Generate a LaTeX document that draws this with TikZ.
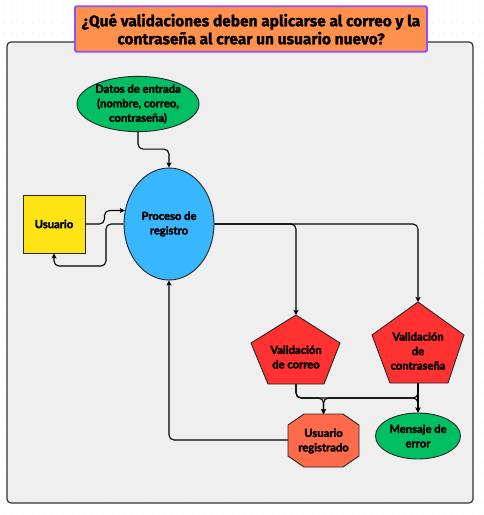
\documentclass[tikz,border=0pt]{standalone}
\usepackage{fontspec}
\setmainfont{Lato}[BoldFeatures={FakeBold=2.6}]
\newfontfamily\titlefont{Fira Sans}[BoldFeatures={FakeBold=1.2}]
\usetikzlibrary{shapes.geometric,arrows.meta}
\definecolor{panelgray}{HTML}{EFEFEF}
\definecolor{titleorange}{HTML}{FF914D}
\definecolor{titlepurple}{HTML}{8C52FF}
\definecolor{nodegreen}{HTML}{00BF63}
\definecolor{nodeblue}{HTML}{38B6FF}
\definecolor{nodeyellow}{HTML}{FFE415}
\definecolor{nodered}{HTML}{FF3131}
\definecolor{nodecoral}{HTML}{FF6B4A}
\definecolor{gridc}{HTML}{E4E4E4}
\tikzset{
  txt/.style={font=\fontsize{11.2}{14.5}\selectfont\bfseries, align=center, text=black},
  shapeline/.style={draw=black!85, line width=0.9pt},
  ell/.style={ellipse, shapeline, inner sep=0pt, txt},
  conn/.style={draw=black, line width=1.1pt, rounded corners=5pt, -{Stealth[length=5pt,width=5pt,inset=1pt]}},
}
\begin{document}
\begin{tikzpicture}[x=1pt,y=-1pt]
\useasboundingbox (0,0) rectangle (484,515);
\fill[white] (0,0) rectangle (484,515);
\foreach \i in {0,...,48}{\foreach \j in {0,...,51}{\fill[gridc] (\i*10+3,\j*10+3) circle (0.6);}}
% panel
\draw[fill=panelgray, draw=black!80, line width=1.2pt, rounded corners=4pt] (7,42) rectangle (473,503);
% title
\node[draw=titlepurple, line width=1.8pt, fill=titleorange, rounded corners=1.5pt,
      minimum width=352pt, minimum height=45.5pt, inner sep=0pt,
      font=\titlefont\fontsize{15.5}{18}\selectfont\bfseries, align=center] (title) at (251,29)
  {¿Qué validaciones deben aplicarse al correo y la\\contraseña al crear un usuario nuevo?};
% nodes
\node[ell, fill=nodegreen, minimum width=122pt, minimum height=54pt] (datos) at (138,104)
  {Datos de entrada\\(nombre, correo,\\contraseña)};
\node[ell, fill=nodeblue, minimum width=90pt, minimum height=112pt] (proceso) at (169,224)
  {Proceso de\\registro};
\node[rectangle, shapeline, fill=nodeyellow, minimum width=62pt, minimum height=58pt, inner sep=0pt, txt] (usuario) at (54,224) {Usuario};
% pentagons
\draw[shapeline, fill=nodered] (296,315) -- (340,343) -- (324,384) -- (268,384) -- (251,343) -- cycle;
\coordinate (correoT) at (296,315);
\coordinate (correoB) at (296,384);
\node[txt] (correo) at (296,357) {Validación\\de correo};
\draw[shapeline, fill=nodered] (418,302) -- (464,335) -- (448,383) -- (390,383) -- (372,335) -- cycle;
\coordinate (contraT) at (418,302);
\coordinate (contraB) at (418,383);
\node[txt] (contra) at (418,351) {Validación\\de\\contraseña};
% octagon
\draw[shapeline, fill=nodecoral] (304,414) -- (343,414) -- (359,425) -- (359,456) -- (343,467) -- (304,467) -- (288,456) -- (288,425) -- cycle;
\coordinate (regT) at (323.5,414);
\coordinate (regL) at (288,440);
\node[txt] (reg) at (323.5,441) {Usuario\\registrado};
% mensaje
\node[ell, fill=nodegreen, minimum width=85pt, minimum height=46pt] (mensaje) at (418,436) {Mensaje de\\error};
% connectors
\draw[conn] (datos.south) -- ++(0,17) -| (proceso.north);
\draw[conn] (usuario.east) -- ++(19,0) |- (proceso.163.5);
\coordinate (b1) at (106,266);
\draw[conn] (proceso.west) -| (b1) -| (usuario.south);
\draw[conn] (proceso.east) -| (correoT);
\draw[conn] (proceso.east) -| (contraT);
\draw[conn] (correoB) -- ++(0,14) -| (regT);
\draw[conn] (correoB) -- ++(0,14) -| (mensaje.north);
\draw[conn] (contraB) -- (mensaje.north);
\draw[conn] (contraB) -- ++(0,15) -| (regT);
\draw[conn] (regL) -| (proceso.south);
\end{tikzpicture}
\end{document}
